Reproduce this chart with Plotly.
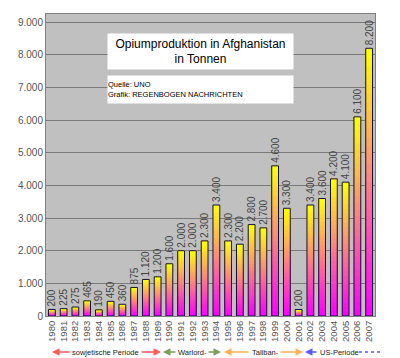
import plotly.graph_objects as go

years = ["1980", "1981", "1982", "1983", "1984", "1985", "1986", "1987", "1988", "1989",
         "1990", "1991", "1992", "1993", "1994", "1995", "1996", "1997", "1998", "1999",
         "2000", "2001", "2002", "2003", "2004", "2005", "2006", "2007"]
tonnes = [200, 225, 275, 465, 190, 450, 360, 875, 1120, 1200,
          1600, 2000, 2000, 2300, 3400, 2300, 2200, 2800, 2700, 4600,
          3300, 200, 3400, 3600, 4200, 4100, 6100, 8200]
y_ticks = [0, 1000, 2000, 3000, 4000, 5000, 6000, 7000, 8000, 9000]

title_lines = ["Opiumproduktion in Afghanistan", "in Tonnen"]
source_lines = ["Quelle: UNO", "Grafik: REGENBOGEN NACHRICHTEN"]
periods = ["sowjetische Periode", "Warlord-", "Taliban-", "US-Periode"]

FONT = "Liberation Sans, Arial, sans-serif"
OFF = 8  # default page body margin
W, H = 400 - OFF, 358 - OFF
ML, MR, MT, MB = 46 - OFF, 25, 14 - OFF, 42
PW, PH = W - ML - MR, H - MT - MB


def px(x):
    return (x - OFF - ML) / PW


def py(y):
    return (H - MB - (y - OFF)) / PH


def de(v):
    return f"{v:,}".replace(",", ".")


fig = go.Figure()

# gradient bars: magenta at base -> yellow at top, built from stacked overlapping segments
N = 30
c0 = (255, 0, 255)
c1 = (255, 255, 0)
for i in range(N):
    t = i / (N - 1)
    col = "rgb({},{},{})".format(*[round(a + (b - a) * t) for a, b in zip(c0, c1)])
    fig.add_trace(go.Bar(
        x=years,
        base=[v * i / N for v in tonnes],
        y=[v * (N - i) / N for v in tonnes],
        marker=dict(color=col, line=dict(width=0)),
        width=0.58, hoverinfo="skip", showlegend=False,
    ))

# outline + value labels
fig.add_trace(go.Bar(
    x=years, y=tonnes, base=[0] * len(tonnes),
    marker=dict(color="rgba(0,0,0,0)", line=dict(color="#10103a", width=1)),
    width=0.58,
    text=[de(v) for v in tonnes], textposition="outside", textangle=-90,
    constraintext="none",
    textfont=dict(family=FONT, size=10, color="#444"),
    cliponaxis=False, hoverinfo="skip", showlegend=False,
))

annotations = [
    dict(xref="paper", yref="paper", x=px(107), y=py(33), xanchor="left", yanchor="top",
         width=185, height=35, bgcolor="white", borderpad=0, showarrow=False,
         align="center", valign="middle",
         text="<br>".join(title_lines), font=dict(family=FONT, size=12, color="black")),
    dict(xref="paper", yref="paper", x=px(107), y=py(75), xanchor="left", yanchor="top",
         width=185, height=27, bgcolor="white", borderpad=0, showarrow=False,
         align="left", valign="middle",
         text="<br>".join(source_lines), font=dict(family=FONT, size=7.5, color="black")),
]

ty = py(352)
text_centers = [105, 192, 265, 339]
for name, cx in zip(periods, text_centers):
    annotations.append(dict(xref="paper", yref="paper", x=px(cx), y=ty, showarrow=False,
                            text=name, font=dict(family=FONT, size=7.5, color="#222"),
                            xanchor="center", yanchor="middle"))

# arrows: (head, tail, color)
arrows = [
    (52, 71, "#ff5a5a"), (161, 140, "#ff5a5a"),
    (163, 177, "#7a9e5a"), (221, 207, "#7a9e5a"),
    (224, 250, "#ffb050"), (303, 279, "#ffb050"),
    (305, 318, "#5a5aff"),
]
for head, tail, col in arrows:
    annotations.append(dict(xref="paper", yref="paper", x=px(head), y=ty,
                            axref="pixel", ayref="pixel", ax=tail - head, ay=0,
                            text="", showarrow=True, arrowhead=2, arrowsize=1,
                            arrowwidth=1.5, arrowcolor=col))

shapes = [dict(type="line", xref="paper", yref="paper", x0=px(359), x1=px(381),
               y0=ty, y1=ty, line=dict(color="#5a5aff", width=1.5, dash="dot"))]

fig.update_layout(
    width=W, height=H,
    margin=dict(l=ML, r=MR, t=MT, b=MB, autoexpand=False),
    paper_bgcolor="white", plot_bgcolor="#c0c0c0",
    barmode="overlay", bargap=0.42,
    separators=",.",
    font=dict(family=FONT, color="#444"),
    annotations=annotations, shapes=shapes,
    xaxis=dict(type="category", tickangle=-90, showgrid=False, ticks="",
               automargin=False,
               tickfont=dict(family=FONT, size=9.5, color="#555"),
               showline=True, linecolor="#808080", linewidth=1, mirror=True,
               range=[-0.5, len(years) - 0.5]),
    yaxis=dict(range=[0, 9250], tickvals=y_ticks, tickformat=",d",
               automargin=False,
               showgrid=True, gridcolor="#7a7a7a", gridwidth=1, zeroline=False,
               tickfont=dict(family=FONT, size=10, color="#555"),
               showline=True, linecolor="#808080", linewidth=1, mirror=True,
               ticks=""),
)

fig.write_html("out.html")
